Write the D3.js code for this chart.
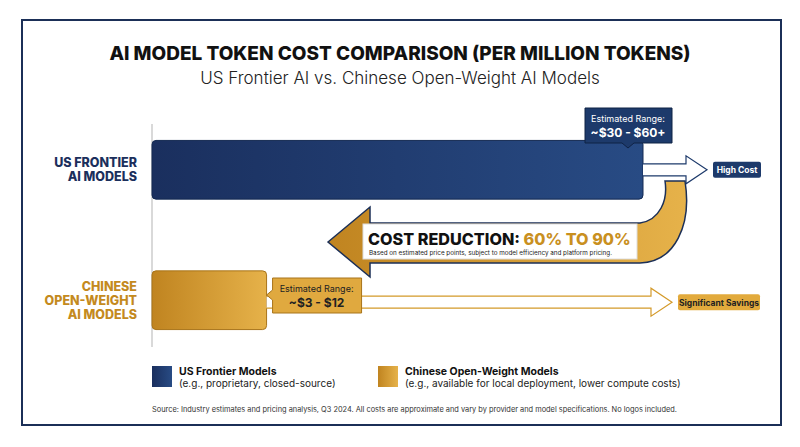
<!DOCTYPE html>
<html><head><meta charset="utf-8">
<script src="https://cdn.jsdelivr.net/npm/d3@7"></script>
<style>body{margin:0;background:#fff}text{font-family:Inter,"Open Sans",sans-serif}</style>
</head><body><div id="chart"></div>
<script>
// data
var categories = ["US FRONTIER AI MODELS", "CHINESE OPEN-WEIGHT AI MODELS"];
var labelLines = [["US FRONTIER", "AI MODELS"], ["CHINESE", "OPEN-WEIGHT", "AI MODELS"]];
var barValues = [60, 14];
var rangeLabels = ["~$30 - $60+", "~$3 - $12"];
var endLabels = ["High Cost", "Significant Savings"];
var legendTitles = ["US Frontier Models", "Chinese Open-Weight Models"];
var legendSubs = ["(e.g., proprietary, closed-source)", "(e.g., available for local deployment, lower compute costs)"];

var navy = "#1d3a6b", gold = "#d49a2a";
var svg = d3.select("#chart").append("svg").attr("width", 800).attr("height", 447);
var defs = svg.append("defs");
function grad(id, a, b) {
    var g = defs.append("linearGradient").attr("id", id);
    g.append("stop").attr("offset", "0%").attr("stop-color", a);
    g.append("stop").attr("offset", "100%").attr("stop-color", b);
}
grad("gNavy", "#1a2f5e", "#284b84");
grad("gGold", "#c08420", "#e6b24a");

svg.append("rect").attr("x", 22).attr("y", 20).attr("width", 759).attr("height", 405)
    .attr("fill", "#fff").attr("stroke", "#1b2f57").attr("stroke-width", 2);

svg.append("text").attr("x", 400).attr("y", 60).attr("text-anchor", "middle")
    .attr("font-size", 19).attr("font-weight", 800).attr("fill", "#111").text("AI MODEL TOKEN COST COMPARISON (PER MILLION TOKENS)");
svg.append("text").attr("x", 400).attr("y", 84).attr("text-anchor", "middle")
    .attr("font-size", 17).attr("font-weight", 300).attr("fill", "#222").text("US Frontier AI vs. Chinese Open-Weight AI Models");

var x = d3.scaleLinear().domain([0, 60]).range([152, 643]);
var y = d3.scaleBand().domain(categories).range([130, 340]).paddingInner(0.55).paddingOuter(0.08);
var cols = [navy, gold], fills = ["url(#gNavy)", "url(#gGold)"];

svg.append("line").attr("x1", 152).attr("x2", 152).attr("y1", 124).attr("y2", 347)
    .attr("stroke", "#ccc").attr("stroke-width", 1.5);

// big reduction arrow (behind)
var ra = d3.path();
ra.moveTo(328, 242); ra.lineTo(370, 207); ra.lineTo(370, 223); ra.lineTo(640, 223);
ra.bezierCurveTo(660, 220, 668, 200, 665, 181); ra.lineTo(685, 181);
ra.bezierCurveTo(692, 225, 675, 262, 640, 263); ra.lineTo(370, 263); ra.lineTo(370, 277); ra.closePath();
svg.append("path").attr("d", ra.toString()).attr("fill", "url(#gGold)").attr("stroke", "#1b2f57").attr("stroke-width", 1.5);

svg.selectAll(".bar").data(categories).enter().append("rect")
    .attr("x", x(0)).attr("y", function (d) { return y(d); })
    .attr("width", function (d, i) { return x(barValues[i]) - x(0); })
    .attr("height", y.bandwidth()).attr("rx", 4)
    .attr("fill", function (d, i) { return fills[i]; })
    .attr("stroke", function (d, i) { return i ? "#a8741a" : "#142a52"; });

// outline arrows
categories.forEach(function (c, i) {
    var x0 = x(barValues[i]), cy = y(c) + y.bandwidth() / 2 - (i ? -2 : 0), tip = i ? 672 : 707, hb = tip - 21;
    var p = d3.path();
    p.moveTo(x0, cy - 6); p.lineTo(hb, cy - 6); p.lineTo(hb, cy - 14); p.lineTo(tip, cy);
    p.lineTo(hb, cy + 14); p.lineTo(hb, cy + 6); p.lineTo(x0, cy + 6);
    svg.append("path").attr("d", p.toString()).attr("fill", "#fff").attr("stroke", cols[i]).attr("stroke-width", 1.2);
    var bx = i ? 678 : 713, bw = i ? 82 : 48;
    svg.append("rect").attr("x", bx).attr("y", cy - 8).attr("width", bw).attr("height", 16).attr("rx", 2).attr("fill", i ? "#e2aa3c" : navy);
    svg.append("text").attr("x", bx + bw / 2).attr("y", cy + 3.5).attr("text-anchor", "middle")
        .attr("font-size", 8.5).attr("font-weight", 700).attr("fill", i ? "#222" : "#fff").text(endLabels[i]);
    // category labels
    var lines = labelLines[i];
    lines.forEach(function (l, k) {
        svg.append("text").attr("x", 137).attr("y", y(c) + y.bandwidth() / 2 + 4.5 + (k - (lines.length - 1) / 2) * 14)
            .attr("text-anchor", "end").attr("font-size", 12.5).attr("font-weight", 800)
            .attr("fill", i ? "#c48a1e" : "#1b2f5c").text(l);
    });
});

// US tooltip
svg.append("path").attr("d", "M585,108h87v35h-38l-6,5l-6,-5h-37z").attr("fill", navy).attr("stroke", "#0f2245");
svg.append("text").attr("x", 628).attr("y", 122).attr("text-anchor", "middle").attr("font-size", 9).attr("fill", "#fff").text("Estimated Range:");
svg.append("text").attr("x", 628).attr("y", 137).attr("text-anchor", "middle").attr("font-size", 12).attr("font-weight", 700).attr("fill", "#fff").text(rangeLabels[0]);
// Chinese tooltip
var cb = x(barValues[1]);
svg.append("path").attr("d", "M" + (cb + 6) + ",278h89v35h-89v-13l-6,-5l6,-5z").attr("fill", "#e0a93f").attr("stroke", "#a8741a");
svg.append("text").attr("x", cb + 50).attr("y", 292).attr("text-anchor", "middle").attr("font-size", 9).attr("fill", "#222").text("Estimated Range:");
svg.append("text").attr("x", cb + 50).attr("y", 307).attr("text-anchor", "middle").attr("font-size", 12).attr("font-weight", 700).attr("fill", "#222").text(rangeLabels[1]);

// reduction text box
svg.append("rect").attr("x", 363).attr("y", 224).attr("width", 274).attr("height", 35).attr("fill", "#fff").attr("stroke", "#ddd");
var t = svg.append("text").attr("x", 368).attr("y", 245).attr("font-size", 16.2).attr("font-weight", 800);
t.append("tspan").attr("fill", "#111").text("COST REDUCTION: ");
t.append("tspan").attr("fill", "#c9901f").text("60% TO 90%");
svg.append("text").attr("x", 369).attr("y", 255).attr("font-size", 6.3).attr("fill", "#222")
    .text("Based on estimated price points, subject to model efficiency and platform pricing.");

// legend
[152, 378].forEach(function (lx, i) {
    svg.append("rect").attr("x", lx).attr("y", 366).attr("width", 20).attr("height", 21).attr("fill", fills[i]);
    svg.append("text").attr("x", lx + 27).attr("y", 375).attr("font-size", 10.5).attr("font-weight", 700).attr("fill", "#111").text(legendTitles[i]);
    svg.append("text").attr("x", lx + 27).attr("y", 387).attr("font-size", 10).attr("fill", "#222").text(legendSubs[i]);
});
svg.append("text").attr("x", 152).attr("y", 412).attr("font-size", 7.4).attr("fill", "#333")
    .text("Source: Industry estimates and pricing analysis, Q3 2024. All costs are approximate and vary by provider and model specifications. No logos included.");
</script></body></html>
